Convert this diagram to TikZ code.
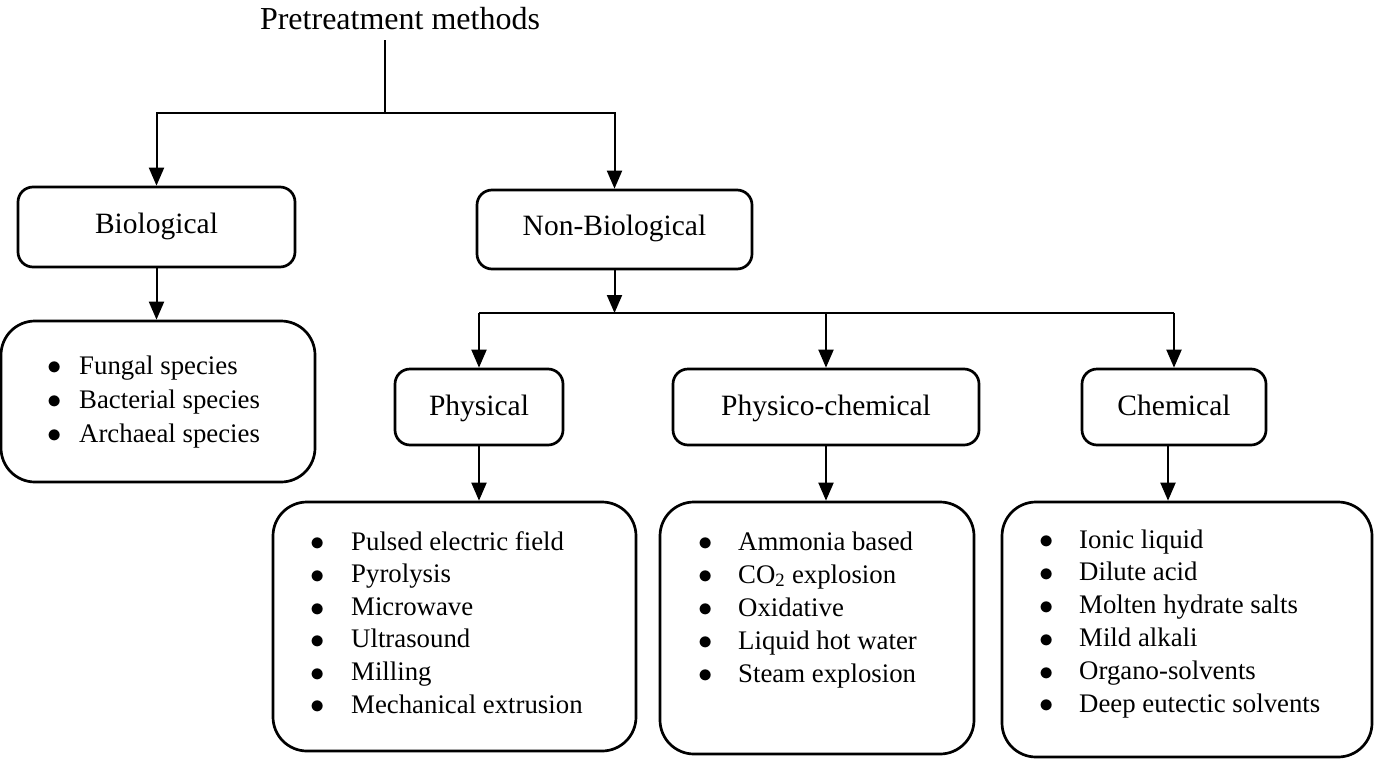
\documentclass[tikz,border=0pt]{standalone}
\usepackage{fontspec}
\setmainfont{Liberation Serif}
\usetikzlibrary{arrows.meta}
\newlength\bgap
\newcommand\itm[1]{\makebox[\bgap][l]{\raisebox{-0.03em}{\scalebox{1.15}{$\bullet$}}}#1}
\begin{document}
\begin{tikzpicture}[x=1pt,y=-1pt,
  box/.style={draw, line width=2.7pt, rounded corners=15pt, inner sep=0pt,
    font=\fontsize{29.5}{35}\selectfont},
  upper/.style={text height=20pt, text depth=8pt},
  lower/.style={text height=22pt, text depth=6pt},
  listbox/.style={draw, line width=2.7pt, rounded corners=34pt, inner sep=0pt},
  listtext/.style={anchor=base west, inner sep=0pt},
  conn/.style={line width=2pt},
  arr/.style={conn, -{Triangle[width=15pt,length=18pt]}}]
\useasboundingbox (0,0) rectangle (1375,763);
% title
\node[anchor=base, inner sep=0pt, text depth=11pt, font=\fontsize{32}{37}\selectfont] (title) at (400,29) {Pretreatment methods};
% boxes
\node[box, upper, minimum width=277pt, minimum height=80pt] (bio) at (156.5,227) {Biological};
\node[box, upper, minimum width=275pt, minimum height=79pt] (nonbio) at (614.5,229.5) {Non-Biological};
\node[listbox, minimum width=314pt, minimum height=161pt] (biolist) at (158,401.5) {};
\node[box, lower, minimum width=168pt, minimum height=76pt] (phys) at (479,407) {Physical};
\node[box, lower, minimum width=306pt, minimum height=76pt] (physchem) at (826,407) {Physico-chemical};
\node[box, lower, minimum width=184pt, minimum height=76pt] (chem) at (1174,407) {Chemical};
\node[listbox, minimum width=363pt, minimum height=249pt] (physlist) at (454.5,626.5) {};
\node[listbox, minimum width=314pt, minimum height=252pt] (pclist) at (817,628) {};
\node[listbox, minimum width=370pt, minimum height=255pt] (chemlist) at (1187,629.5) {};
% list texts
\node[listtext, font=\fontsize{26.8}{34}\selectfont] (biotext) at (47,374)
  {\setlength\bgap{32pt}\begin{tabular}[t]{@{}l@{}}\itm{Fungal species}\\\itm{Bacterial species}\\\itm{Archaeal species}\end{tabular}};
\node[listtext, font=\fontsize{26.8}{32.6}\selectfont] (phystext) at (310,550)
  {\setlength\bgap{41pt}\begin{tabular}[t]{@{}l@{}}\itm{Pulsed electric field}\\\itm{Pyrolysis}\\\itm{Microwave}\\\itm{Ultrasound}\\\itm{Milling}\\\itm{Mechanical extrusion}\end{tabular}};
\node[listtext, font=\fontsize{26.8}{33}\selectfont] (pctext) at (698,550)
  {\setlength\bgap{40pt}\begin{tabular}[t]{@{}l@{}}\itm{Ammonia based}\\\itm{CO\textsubscript{2} explosion}\\\itm{Oxidative}\\\itm{Liquid hot water}\\\itm{Steam explosion}\end{tabular}};
\node[listtext, font=\fontsize{26.8}{32.8}\selectfont] (chemtext) at (1039,548)
  {\setlength\bgap{40pt}\begin{tabular}[t]{@{}l@{}}\itm{Ionic liquid}\\\itm{Dilute acid}\\\itm{Molten hydrate salts}\\\itm{Mild alkali}\\\itm{Organo-solvents}\\\itm{Deep eutectic solvents}\end{tabular}};
% connectors
\coordinate (j1) at (385,113);
\coordinate (j2) at (614.5,313);
\draw[conn] (title.south -| j1) -- (j1);
\draw[arr] (j1) -| (bio.north);
\draw[arr] (j1) -| (nonbio.north);
\draw[arr] (nonbio.south) -- (j2);
\draw[conn] (j2 -| phys.north) -- (j2 -| chem.north);
\draw[arr] (j2 -| phys.north) -- (phys.north);
\draw[arr] (j2 -| physchem.north) -- (physchem.north);
\draw[arr] (j2 -| chem.north) -- (chem.north);
\draw[arr] (bio.south) -- (bio.south |- biolist.north);
\draw[arr] (phys.south) -- (phys.south |- physlist.north);
\draw[arr] (physchem.south) -- (physchem.south |- pclist.north);
\draw[arr] ([xshift=-6pt]chem.south) -- ([xshift=-6pt]chem.south |- chemlist.north);
\end{tikzpicture}
\end{document}
